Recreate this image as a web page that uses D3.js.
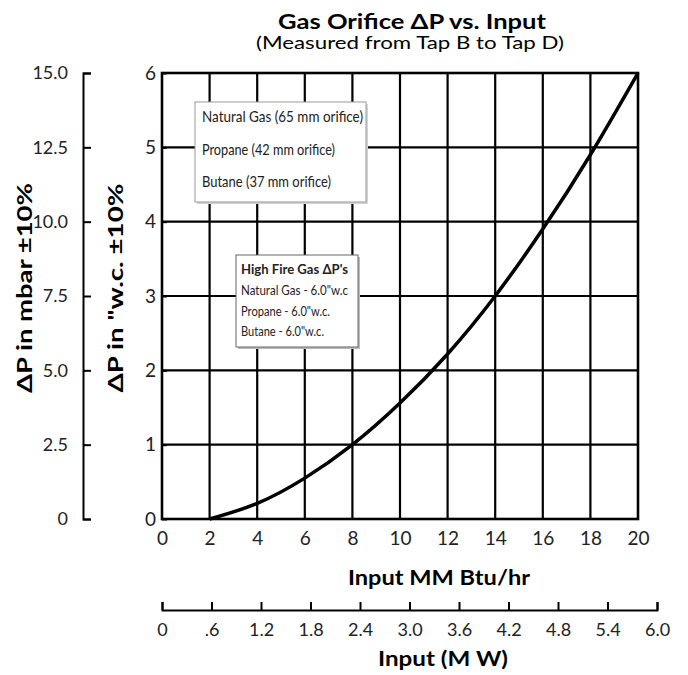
<!DOCTYPE html>
<html>
<head>
<meta charset="utf-8">
<script src="https://cdn.jsdelivr.net/npm/d3@7"></script>
<style>
  body { margin: 0; background: #fff; }
  svg { display: block; font-family: Lato, "Open Sans", sans-serif; }
</style>
</head>
<body>
<svg id="plotSvg"></svg>
<script>
var width = 688;
var height = 675;

// data
var inputMM = [2, 4, 6, 8, 10, 12, 14, 16, 18, 20];
var deltaP = [0, 0.21, 0.55, 1.0, 1.56, 2.22, 3.0, 3.9, 4.9, 6.0];

var xTicks = [0, 2, 4, 6, 8, 10, 12, 14, 16, 18, 20];
var wcTicks = [0, 1, 2, 3, 4, 5, 6];
var mbarTicks = [0, 2.5, 5, 7.5, 10, 12.5, 15];
var mbarLabels = ["0", "2.5", "5.0", "7.5", "10.0", "12.5", "15.0"];
var mwTicks = [0, 0.6, 1.2, 1.8, 2.4, 3.0, 3.6, 4.2, 4.8, 5.4, 6.0];
var mwLabels = ["0", ".6", "1.2", "1.8", "2.4", "3.0", "3.6", "4.2", "4.8", "5.4", "6.0"];

var orificeLegend = ["Natural Gas (65 mm orifice)", "Propane (42 mm orifice)", "Butane (37 mm orifice)"];
var orificeWidths = [161, 133, 129];
var highFireTitle = "High Fire Gas \u0394P's";
var highFireLines = ["Natural Gas - 6.0\"w.c", "Propane - 6.0\"w.c.", "Butane - 6.0\"w.c."];
var highFireWidths = [107, 89, 83];

var svg = d3.select("#plotSvg").attr("width", width).attr("height", height);

var plot = { left: 162, right: 638, top: 73, bottom: 519 };

var x = d3.scaleLinear().domain([0, 20]).range([plot.left, plot.right]);
var y = d3.scaleLinear().domain([0, 6]).range([plot.bottom, plot.top]);
var yMbar = d3.scaleLinear().domain([0, 15]).range([plot.bottom, plot.top]);
var xMW = d3.scaleLinear().domain([0, 6]).range([plot.left, 657]);

// title
svg.append("text")
  .attr("x", 412).attr("y", 29)
  .attr("text-anchor", "middle")
  .attr("font-size", 20).attr("font-weight", "bold")
  .attr("textLength", 268).attr("lengthAdjust", "spacingAndGlyphs")
  .text("Gas Orifice \u0394P vs. Input");
svg.append("text")
  .attr("x", 410).attr("y", 49)
  .attr("text-anchor", "middle")
  .attr("font-size", 18)
  .attr("textLength", 308).attr("lengthAdjust", "spacingAndGlyphs")
  .text("(Measured from Tap B to Tap D)");

// grid
var grid = svg.append("g").attr("stroke", "#000").attr("stroke-width", 2.2);
grid.selectAll("line.v")
  .data(xTicks.slice(1, -1))
  .enter().append("line")
  .attr("class", "v")
  .attr("x1", function(d) { return x(d); })
  .attr("x2", function(d) { return x(d); })
  .attr("y1", plot.top).attr("y2", plot.bottom);
grid.selectAll("line.h")
  .data(wcTicks.slice(1, -1))
  .enter().append("line")
  .attr("class", "h")
  .attr("y1", function(d) { return y(d); })
  .attr("y2", function(d) { return y(d); })
  .attr("x1", plot.left).attr("x2", plot.right);

// frame
svg.append("rect")
  .attr("x", plot.left).attr("y", plot.top)
  .attr("width", plot.right - plot.left)
  .attr("height", plot.bottom - plot.top)
  .attr("fill", "none").attr("stroke", "#000").attr("stroke-width", 2.6);

function styleAxis(g, size) {
  g.selectAll("path, line").attr("stroke", "#000").attr("stroke-width", 2);
  g.selectAll("text").attr("font-size", size).attr("fill", "#222")
    .attr("font-family", "Lato, sans-serif");
}

// x axis (MM Btu/hr)
var xAxis = svg.append("g")
  .attr("transform", "translate(0," + plot.bottom + ")")
  .call(d3.axisBottom(x).tickValues(xTicks).tickSize(0).tickPadding(13).tickFormat(d3.format("d")));
xAxis.select(".domain").remove();
styleAxis(xAxis, 19);

// y axis ("w.c.)
var wcAxis = svg.append("g")
  .attr("transform", "translate(" + plot.left + ",0)")
  .call(d3.axisLeft(y).tickValues(wcTicks).tickSizeInner(-5).tickSizeOuter(0).tickPadding(6).tickFormat(d3.format("d")));
wcAxis.select(".domain").remove();
styleAxis(wcAxis, 19);

// mbar axis
var mbarAxis = svg.append("g")
  .attr("transform", "translate(83,0)")
  .call(d3.axisLeft(yMbar).tickValues(mbarTicks).tickSizeInner(-8).tickSizeOuter(-8).tickPadding(15)
    .tickFormat(function(d, i) { return mbarLabels[i]; }));
styleAxis(mbarAxis, 18);

// MW axis
var mwAxis = svg.append("g")
  .attr("transform", "translate(0,610)")
  .call(d3.axisBottom(xMW).tickValues(mwTicks).tickSizeInner(-8).tickSizeOuter(-8).tickPadding(13)
    .tickFormat(function(d, i) { return mwLabels[i]; }));
styleAxis(mwAxis, 18);

// axis titles
svg.append("text")
  .attr("x", 439).attr("y", 585)
  .attr("text-anchor", "middle")
  .attr("font-size", 20).attr("font-weight", "bold")
  .attr("textLength", 182).attr("lengthAdjust", "spacingAndGlyphs")
  .text("Input MM Btu/hr");
svg.append("text")
  .attr("x", 443).attr("y", 666)
  .attr("text-anchor", "middle")
  .attr("font-size", 20).attr("font-weight", "bold")
  .attr("textLength", 130).attr("lengthAdjust", "spacingAndGlyphs")
  .text("Input (M W)");
svg.append("text")
  .attr("transform", "translate(32,288) rotate(-90)")
  .attr("text-anchor", "middle")
  .attr("font-size", 20).attr("font-weight", "bold")
  .attr("textLength", 210).attr("lengthAdjust", "spacingAndGlyphs")
  .text("\u0394P in mbar  \u00b110%");
svg.append("text")
  .attr("transform", "translate(123,288) rotate(-90)")
  .attr("text-anchor", "middle")
  .attr("font-size", 20).attr("font-weight", "bold")
  .attr("textLength", 209).attr("lengthAdjust", "spacingAndGlyphs")
  .text("\u0394P in \"w.c.  \u00b110%");

// legend box 1
var lg1 = svg.append("g");
lg1.append("rect").attr("x", 197).attr("y", 104).attr("width", 171).attr("height", 100).attr("fill", "#d4d4d4");
lg1.append("rect").attr("x", 195).attr("y", 102).attr("width", 171).attr("height", 100)
  .attr("fill", "#fff").attr("stroke", "#999").attr("stroke-width", 1);
lg1.selectAll("text")
  .data(orificeLegend)
  .enter().append("text")
  .attr("x", 202)
  .attr("y", function(d, i) { return 122 + i * 32.5; })
  .attr("font-size", 15).attr("fill", "#222")
  .attr("textLength", function(d, i) { return orificeWidths[i]; })
  .attr("lengthAdjust", "spacingAndGlyphs")
  .text(function(d) { return d; });

// legend box 2
var lg2 = svg.append("g");
lg2.append("rect").attr("x", 238).attr("y", 257).attr("width", 122).attr("height", 92).attr("fill", "#bbb");
lg2.append("rect").attr("x", 236).attr("y", 255).attr("width", 122).attr("height", 92)
  .attr("fill", "#fff").attr("stroke", "#666").attr("stroke-width", 1);
lg2.append("text")
  .attr("x", 241).attr("y", 274)
  .attr("font-size", 14).attr("font-weight", "bold").attr("fill", "#222")
  .attr("textLength", 107).attr("lengthAdjust", "spacingAndGlyphs")
  .text(highFireTitle);
lg2.selectAll("text.line")
  .data(highFireLines)
  .enter().append("text")
  .attr("class", "line")
  .attr("x", 241)
  .attr("y", function(d, i) { return 295 + i * 20.5; })
  .attr("font-size", 13.5).attr("fill", "#222")
  .attr("textLength", function(d, i) { return highFireWidths[i]; })
  .attr("lengthAdjust", "spacingAndGlyphs")
  .text(function(d) { return d; });

// curve
var line = d3.line()
  .x(function(d, i) { return x(inputMM[i]); })
  .y(function(d) { return y(d); })
  .curve(d3.curveNatural);
svg.append("path")
  .datum(deltaP)
  .attr("d", line)
  .attr("fill", "none")
  .attr("stroke", "#000")
  .attr("stroke-width", 3.5);
</script>
</body>
</html>
